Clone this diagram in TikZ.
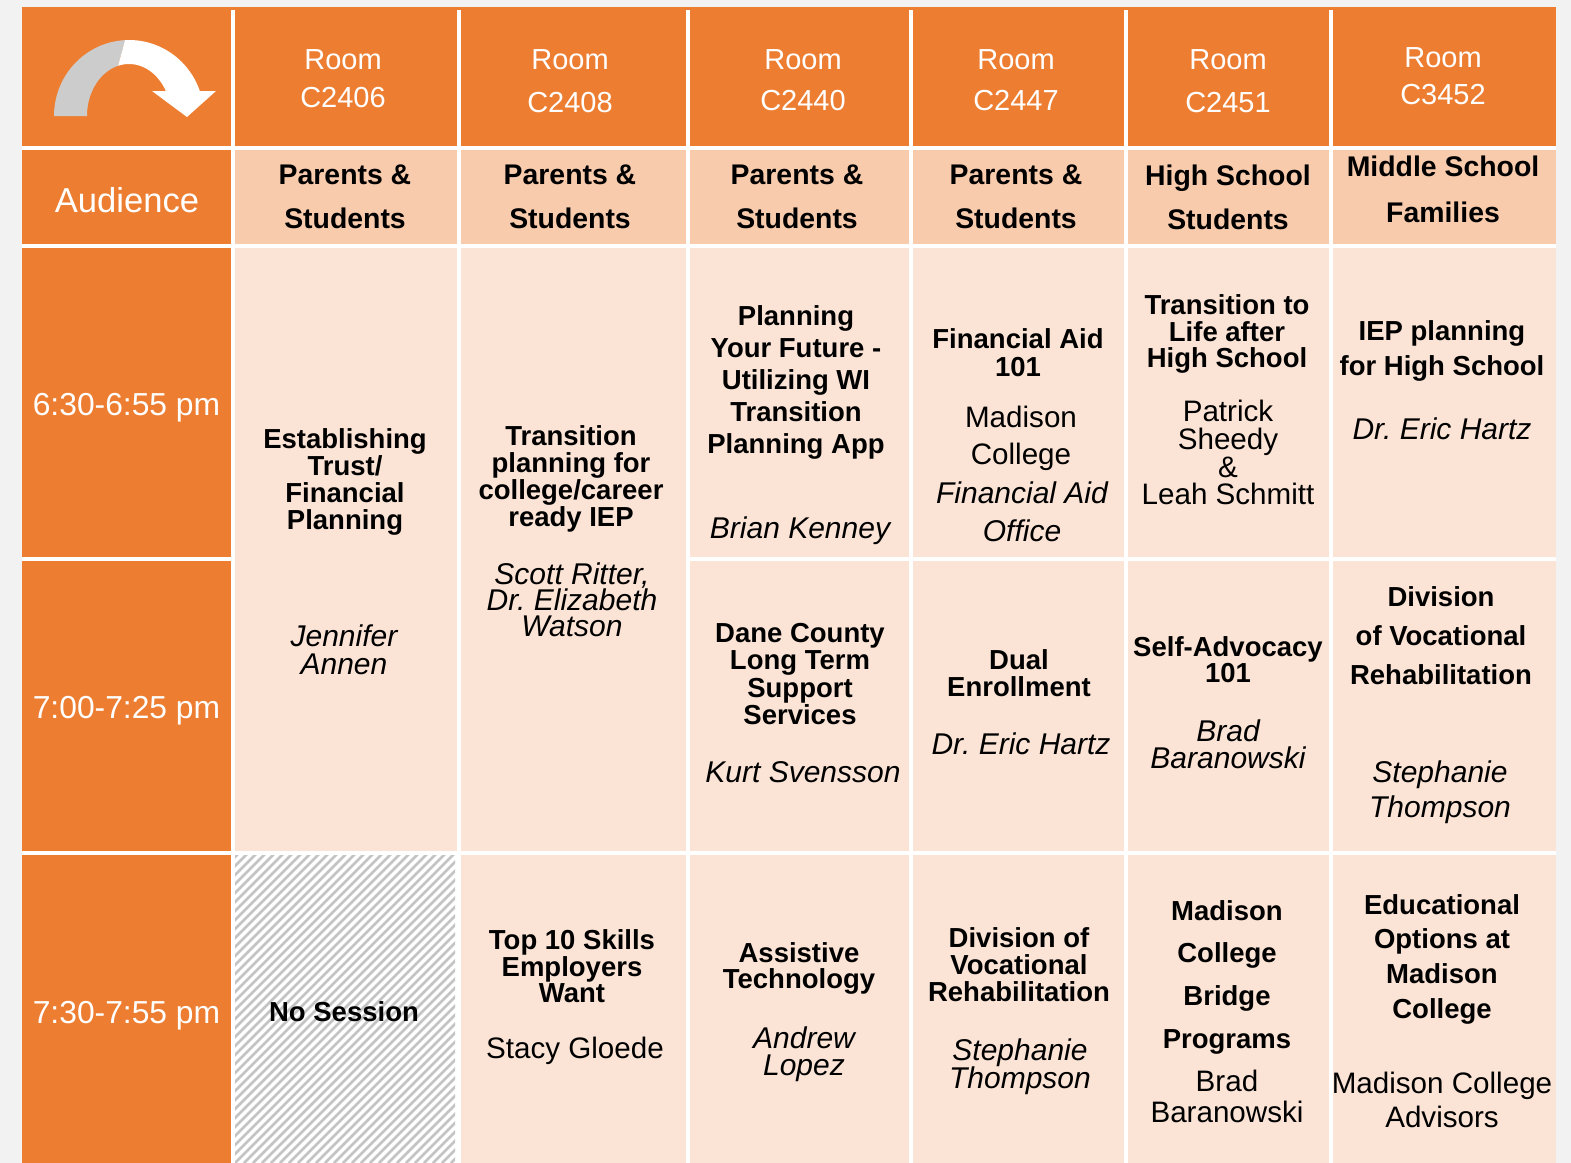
\documentclass[tikz,border=0pt]{standalone}
\usepackage{fontspec}
\setmainfont{Liberation Sans}
\frenchspacing
\definecolor{orng}{HTML}{ED7D31}
\definecolor{audc}{HTML}{F8CBAD}
\definecolor{bodyc}{HTML}{FBE4D6}
\definecolor{pagebg}{HTML}{F2F2F2}
\definecolor{hatchc}{HTML}{C4C4C4}
\definecolor{arrgray}{HTML}{CCCCCC}
\newcommand\myfs[2]{\fontsize{#1}{#2}\selectfont}
\tikzset{
  hd/.style={text=white, align=center, inner sep=0pt, font=\myfs{14.5}{#1}}, hd/.default=19,
  au/.style={align=center, inner sep=0pt, font=\bfseries\myfs{14.2}{#1}}, au/.default=22,
  bt/.style={align=center, inner sep=0pt, font=\bfseries\myfs{13.75}{#1}}, bt/.default=13.5,
  nm/.style={align=center, inner sep=0pt, font=\itshape\myfs{15}{#1}}, nm/.default=14,
  rg/.style={align=center, inner sep=0pt, font=\myfs{14.8}{#1}}, rg/.default=14,
  tm/.style={text=white, inner sep=0pt, font=\myfs{15.9}{18}},
}
\begin{document}
\begin{tikzpicture}[x=0.5pt,y=-0.5pt]
\useasboundingbox (0,0) rectangle (1571,1163);
\fill[pagebg] (0,0) rectangle (1571,1163);
\fill[white] (22,7) rectangle (1556,1163);
% header row
\fill[orng] (22,7) rectangle (1556,10);
\foreach \a/\b in {22/231,235/457,461/686,690/909,913/1124,1128/1329,1333/1556}
  \fill[orng] (\a,7) rectangle (\b,146);
% audience row
\fill[orng] (22,150) rectangle (231,244);
\foreach \a/\b in {235/457,461/686,690/909,913/1124,1128/1329,1333/1556}
  \fill[audc] (\a,150) rectangle (\b,244);
% time column
\fill[orng] (22,248) rectangle (231,557);
\fill[orng] (22,561) rectangle (231,851);
\fill[orng] (22,855) rectangle (231,1163);
% merged cells
\fill[bodyc] (235,248) rectangle (457,851);
\fill[bodyc] (461,248) rectangle (686,851);
\foreach \a/\b in {690/909,913/1124,1128/1329,1333/1556}{
  \fill[bodyc] (\a,248) rectangle (\b,557);
  \fill[bodyc] (\a,561) rectangle (\b,851);
}
\foreach \a/\b in {461/686,690/909,913/1124,1128/1329,1333/1556}
  \fill[bodyc] (\a,855) rectangle (\b,1163);
% hatched cell
\begin{scope}
\clip (235,855) rectangle (455,1163);
\fill[white] (235,855) rectangle (455,1163);
\foreach \i in {-80,-71,...,460}
  \draw[hatchc, line width=1.35pt] (\i,1163) -- ++(400,-400);
\end{scope}
% curved arrow
\fill[arrgray] plot[domain=180:93,samples=40] ({129+75*cos(\x)},{116-76*sin(\x)})
  -- plot[domain=105:180,samples=40] ({129+42*cos(\x)},{116-52*sin(\x)}) -- cycle;
\fill[white] plot[domain=93:19.2,samples=40] ({129+75*cos(\x)},{116-76*sin(\x)})
  -- (216,91) -- (187,117) -- (152,91)
  -- plot[domain=28.5:105,samples=40] ({129+42*cos(\x)},{116-52*sin(\x)}) -- cycle;
% header texts
\node[hd] (hr1) at (343,78.5) {Room\\C2406};
\node[hd=21.5] (hr2) at (570,81) {Room\\C2408};
\node[hd=20.5] (hr3) at (803,80) {Room\\C2440};
\node[hd=20.5] (hr4) at (1016,80) {Room\\C2447};
\node[hd=21.5] (hr5) at (1228,81) {Room\\C2451};
\node[hd=18.5] (hr6) at (1443,76) {Room\\C3452};
% audience
\node[text=white, inner sep=0pt, font=\myfs{17.3}{20}] (aud) at (127,200.5) {Audience};
\node[au] (a1) at (345,197) {Parents \&\\Students};
\node[au] (a2) at (570,197) {Parents \&\\Students};
\node[au] (a3) at (797,197) {Parents \&\\Students};
\node[au] (a4) at (1016,197) {Parents \&\\Students};
\node[au] (a5) at (1228,197) {High School\\Students};
\node[au=23] (a6) at (1443,189) {Middle School\\Families};
% times
\node[tm] (t1) at (126.5,408) {6:30-6:55 pm};
\node[tm] (t2) at (126.5,711) {7:00-7:25 pm};
\node[tm] (t3) at (126.5,1016) {7:30-7:55 pm};
% column 1
\node[bt] (s11) at (345,481.5) {Establishing\\Trust/\\Financial\\Planning};
\node[nm] (p11) at (344,650) {Jennifer\\Annen};
\node[font=\bfseries\myfs{13.75}{14}, inner sep=0pt] (s13) at (344,1012) {No Session};
% column 2
\node[bt] (s21) at (571,479) {Transition\\planning for\\college/career\\ready IEP};
\node[nm=12.9] (p21) at (572,600) {Scott Ritter,\\Dr. Elizabeth\\Watson};
\node[bt=13.25] (s23) at (572,966.6) {Top 10 Skills\\Employers\\Want};
\node[rg] (p23) at (575,1050.4) {Stacy Gloede};
% column 3
\node[bt=16] (s31) at (796,382) {Planning\\Your Future -\\Utilizing WI\\Transition\\Planning App};
\node[nm] (p31) at (800,530.3) {Brian Kenney};
\node[bt=13.67] (s32) at (800,674) {Dane County\\Long Term\\Support\\Services};
\node[nm] (p32) at (803,772.2) {Kurt Svensson};
\node[bt=13] (s33) at (799,968) {Assistive\\Technology};
\node[nm=13.5] (p33) at (804,1053.9) {Andrew\\Lopez};
% column 4
\node[bt=14] (s41) at (1018,353) {Financial Aid\\101};
\node[rg=18.5] (q41) at (1021,438) {Madison\\College};
\node[nm=19] (p41) at (1022,512) {Financial Aid\\Office};
\node[bt] (s42) at (1019,673.6) {Dual\\Enrollment};
\node[nm] (p42) at (1021,744.2) {Dr. Eric Hartz};
\node[bt] (s43) at (1019,965) {Division of\\Vocational\\Rehabilitation};
\node[nm=14] (p43) at (1020,1066.4) {Stephanie\\Thompson};
% column 5
\node[bt=13.25] (s51) at (1227,334) {Transition to\\Life after\\High School};
\node[rg=13.85] (p51) at (1228,452.7) {Patrick\\Sheedy\\\&\\Leah Schmitt};
\node[bt=13] (s52) at (1228,660) {Self-Advocacy\\101};
\node[nm=13.2] (p52) at (1228,744.2) {Brad\\Baranowski};
\node[bt=21.35] (s53) at (1227,977) {Madison\\College\\Bridge\\Programs};
\node[rg=15.5] (p53) at (1227,1096.7) {Brad\\Baranowski};
% column 6
\node[bt=17.5] (s61) at (1442,350.5) {IEP planning\\for High School};
\node[nm] (p61) at (1442,429.2) {Dr. Eric Hartz};
\node[bt=19.5] (s62) at (1441,636) {Division\\of Vocational\\Rehabilitation};
\node[nm=17.5] (p62) at (1440,792) {Stephanie\\Thompson};
\node[bt=17.35] (s63) at (1442,959) {Educational\\Options at\\Madison\\College};
\node[rg=17] (p63) at (1442,1100.2) {Madison College\\Advisors};
\end{tikzpicture}
\end{document}
